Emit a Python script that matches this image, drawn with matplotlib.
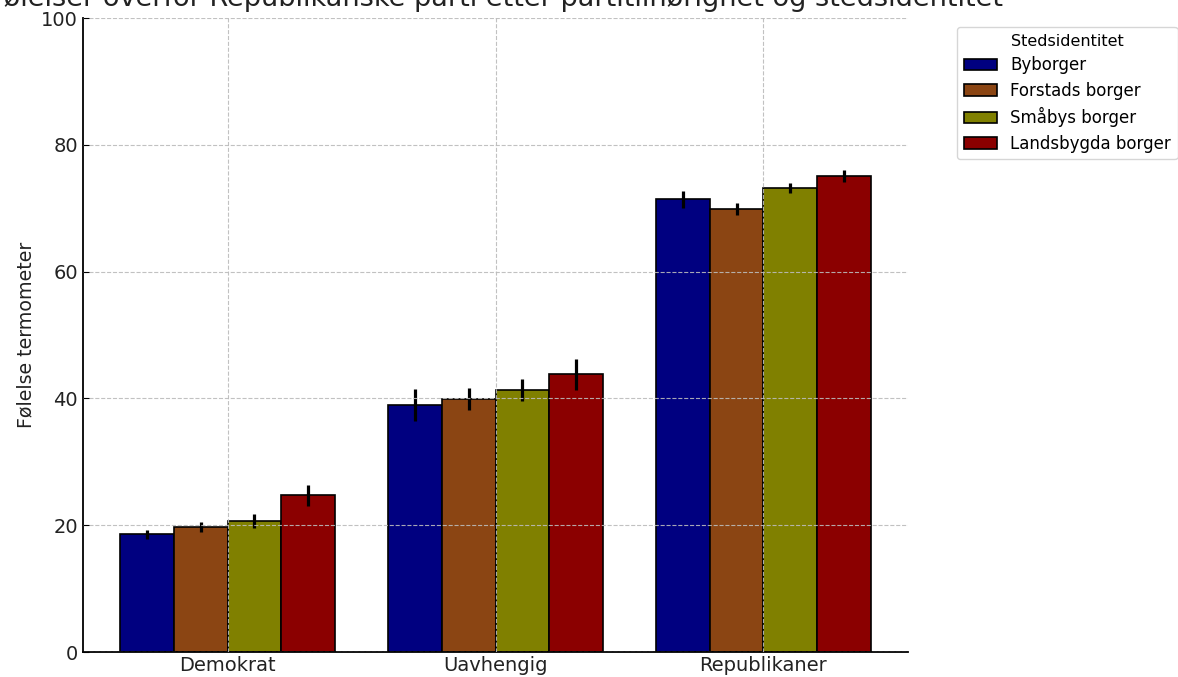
import numpy as np
import matplotlib
matplotlib.use("Agg")
import matplotlib.pyplot as plt

# party groups on the x axis
parties = ["Demokrat", "Uavhengig", "Republikaner"]

# place identity groups (legend)
identities = ["Byborger", "Forstads borger", "Småbys borger", "Landsbygda borger"]
colors = ["#000080", "#8B4513", "#808000", "#8B0000"]

# mean feeling thermometer, one list per identity (Demokrat, Uavhengig, Republikaner)
by_mean = [18.6, 39.0, 71.4]
forstad_mean = [19.7, 39.9, 69.9]
smaby_mean = [20.7, 41.3, 73.2]
land_mean = [24.7, 43.8, 75.1]

# error bar half-widths
by_err = [0.7, 2.5, 1.3]
forstad_err = [0.8, 1.7, 0.95]
smaby_err = [1.1, 1.7, 0.8]
land_err = [1.7, 2.4, 0.95]

means = [by_mean, forstad_mean, smaby_mean, land_mean]
errs = [by_err, forstad_err, smaby_err, land_err]

fig = plt.figure(figsize=(11.78, 6.77), dpi=100)
ax = fig.add_axes([83 / 1178, 25 / 677, 825 / 1178, 634 / 677])

x = np.arange(len(parties))
w = 0.2
for i, (lab, col) in enumerate(zip(identities, colors)):
    ax.bar(
        x + (i - 1.5) * w,
        means[i],
        w,
        yerr=errs[i],
        color=col,
        edgecolor="black",
        linewidth=1.2,
        label=lab,
        error_kw=dict(ecolor="black", elinewidth=2.3, capsize=0),
    )

ax.set_ylim(0, 100)
ax.set_xticks(x)
ax.set_xticklabels(parties, fontsize=14, color="#222222")
ax.set_yticks([0, 20, 40, 60, 80, 100])
ax.tick_params(axis="y", labelsize=14, labelcolor="#222222", direction="in", length=4)
ax.tick_params(axis="x", length=0, pad=3)
ax.set_ylabel("Følelse termometer", fontsize=13.7, color="#222222")
# title is wider than the figure and cut at the top edge, as in the source image
ax.set_title(
    "Følelser overfor Republikanske parti etter partitilhørighet og stedsidentitet",
    fontsize=19.5,
    pad=9,
    color="#222222",
)

ax.set_axisbelow(False)
ax.grid(True, linestyle="--", color="#bbbbbb", linewidth=0.8, alpha=0.9)
for s in ["top", "right"]:
    ax.spines[s].set_visible(False)
ax.spines["left"].set_linewidth(1.3)
ax.spines["bottom"].set_linewidth(1.3)

ax.legend(
    title="Stedsidentitet",
    loc="upper left",
    bbox_to_anchor=(957 / 1178, 1 - 27 / 677),
    bbox_transform=fig.transFigure,
    borderaxespad=0,
    fontsize=12,
    title_fontsize=11.5,
    labelspacing=0.45,
    frameon=True,
)

fig.savefig("out.png", dpi=100)
